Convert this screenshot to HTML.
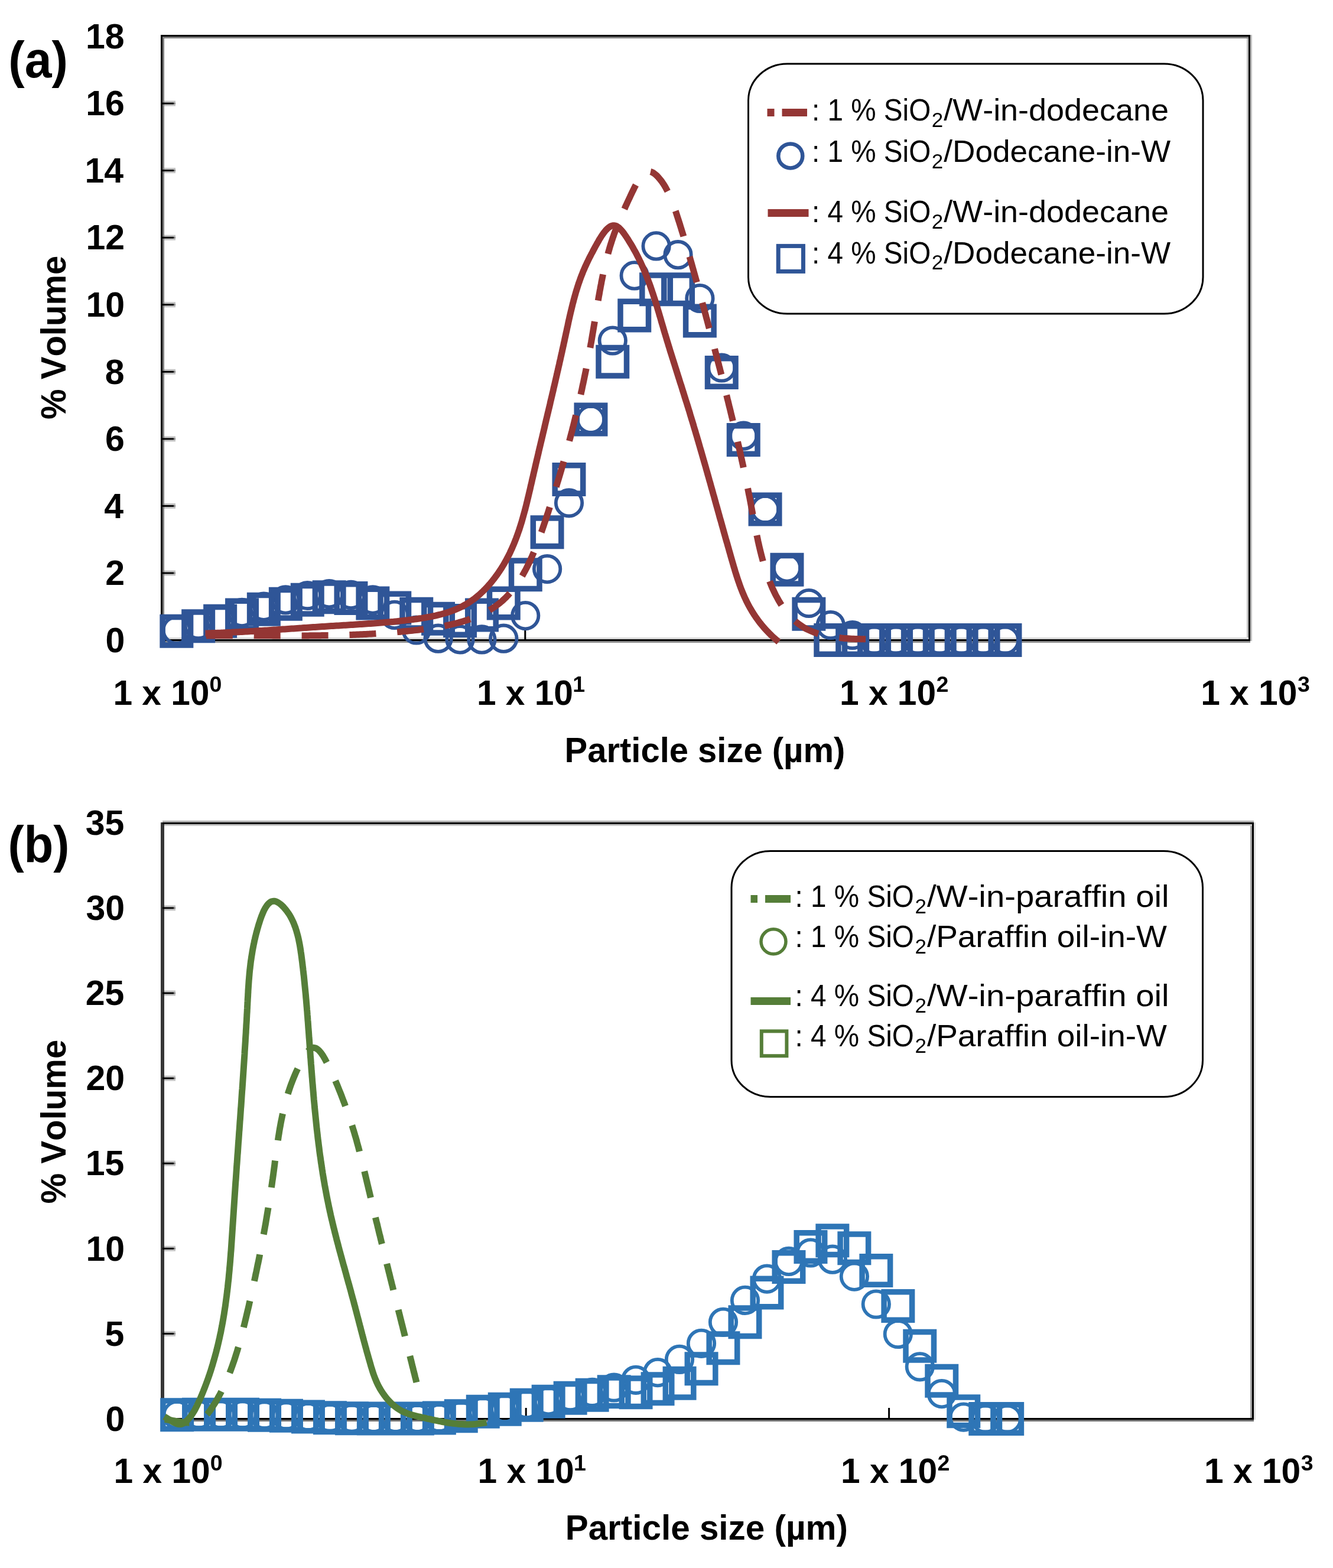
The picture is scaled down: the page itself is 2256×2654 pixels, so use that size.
<!DOCTYPE html><html><head><meta charset="utf-8"><title>Particle size distributions</title><style>html,body{margin:0;padding:0;background:#fff}svg{display:block}text{font-family:"Liberation Sans", Arial, sans-serif;fill:#000;font-kerning:none;font-variant-ligatures:none}</style></head><body>
<svg xmlns="http://www.w3.org/2000/svg" width="2256" height="2654" viewBox="0 0 2256 2654">
<rect width="2256" height="2654" fill="#fff"/>
<rect x="272" y="59" width="3" height="1026" fill="#000"/>
<rect x="275" y="62" width="3" height="1020" fill="#7f7f7f"/>
<rect x="272" y="59" width="1844" height="3" fill="#000"/>
<rect x="275" y="62" width="1838" height="3" fill="#7f7f7f"/>
<rect x="2113" y="59" width="3" height="1026" fill="#000"/>
<rect x="2110" y="65" width="3" height="1014" fill="#c0c0c0"/>
<rect x="2116" y="59" width="3" height="1026" fill="#c0c0c0"/>
<rect x="272" y="1082" width="1844" height="3" fill="#000"/>
<rect x="278" y="1079" width="1832" height="3" fill="#d8d8d8"/>
<rect x="272" y="1085" width="1844" height="3" fill="#909090"/>
<rect x="278" y="965.5" width="19" height="3" fill="#c4c4c4"/>
<rect x="278" y="971.5" width="19" height="3" fill="#c4c4c4"/>
<rect x="275" y="968.5" width="19" height="3" fill="#000"/>
<rect x="294" y="968.5" width="3" height="3" fill="#808080"/>
<rect x="278" y="851.9" width="19" height="3" fill="#c4c4c4"/>
<rect x="278" y="857.9" width="19" height="3" fill="#c4c4c4"/>
<rect x="275" y="854.9" width="19" height="3" fill="#000"/>
<rect x="294" y="854.9" width="3" height="3" fill="#808080"/>
<rect x="278" y="738.4" width="19" height="3" fill="#c4c4c4"/>
<rect x="278" y="744.4" width="19" height="3" fill="#c4c4c4"/>
<rect x="275" y="741.4" width="19" height="3" fill="#000"/>
<rect x="294" y="741.4" width="3" height="3" fill="#808080"/>
<rect x="278" y="624.8" width="19" height="3" fill="#c4c4c4"/>
<rect x="278" y="630.8" width="19" height="3" fill="#c4c4c4"/>
<rect x="275" y="627.8" width="19" height="3" fill="#000"/>
<rect x="294" y="627.8" width="3" height="3" fill="#808080"/>
<rect x="278" y="511.2" width="19" height="3" fill="#c4c4c4"/>
<rect x="278" y="517.2" width="19" height="3" fill="#c4c4c4"/>
<rect x="275" y="514.2" width="19" height="3" fill="#000"/>
<rect x="294" y="514.2" width="3" height="3" fill="#808080"/>
<rect x="278" y="397.7" width="19" height="3" fill="#c4c4c4"/>
<rect x="278" y="403.7" width="19" height="3" fill="#c4c4c4"/>
<rect x="275" y="400.7" width="19" height="3" fill="#000"/>
<rect x="294" y="400.7" width="3" height="3" fill="#808080"/>
<rect x="278" y="284.1" width="19" height="3" fill="#c4c4c4"/>
<rect x="278" y="290.1" width="19" height="3" fill="#c4c4c4"/>
<rect x="275" y="287.1" width="19" height="3" fill="#000"/>
<rect x="294" y="287.1" width="3" height="3" fill="#808080"/>
<rect x="278" y="170.6" width="19" height="3" fill="#c4c4c4"/>
<rect x="278" y="176.6" width="19" height="3" fill="#c4c4c4"/>
<rect x="275" y="173.6" width="19" height="3" fill="#000"/>
<rect x="294" y="173.6" width="3" height="3" fill="#808080"/>
<rect x="887.3" y="1065" width="3" height="17" fill="#000"/>
<rect x="1500.5" y="1065" width="3" height="17" fill="#000"/>
<g clip-path="url(#clipA)">
<circle cx="298.8" cy="1066.5" r="22.2" fill="none" stroke="#2F5597" stroke-width="5.8"/>
<circle cx="335.7" cy="1058" r="22.2" fill="none" stroke="#2F5597" stroke-width="5.8"/>
<circle cx="372.6" cy="1048.3" r="22.2" fill="none" stroke="#2F5597" stroke-width="5.8"/>
<circle cx="409.5" cy="1036.9" r="22.2" fill="none" stroke="#2F5597" stroke-width="5.8"/>
<circle cx="446.4" cy="1026.7" r="22.2" fill="none" stroke="#2F5597" stroke-width="5.8"/>
<circle cx="483.3" cy="1015.4" r="22.2" fill="none" stroke="#2F5597" stroke-width="5.8"/>
<circle cx="520.2" cy="1008" r="22.2" fill="none" stroke="#2F5597" stroke-width="5.8"/>
<circle cx="557.1" cy="1005.2" r="22.2" fill="none" stroke="#2F5597" stroke-width="5.8"/>
<circle cx="594" cy="1006.9" r="22.2" fill="none" stroke="#2F5597" stroke-width="5.8"/>
<circle cx="630.9" cy="1015.4" r="22.2" fill="none" stroke="#2F5597" stroke-width="5.8"/>
<circle cx="667.8" cy="1040.9" r="22.2" fill="none" stroke="#2F5597" stroke-width="5.8"/>
<circle cx="704.7" cy="1066.5" r="22.2" fill="none" stroke="#2F5597" stroke-width="5.8"/>
<circle cx="741.6" cy="1080.7" r="22.2" fill="none" stroke="#2F5597" stroke-width="5.8"/>
<circle cx="778.5" cy="1082.4" r="22.2" fill="none" stroke="#2F5597" stroke-width="5.8"/>
<circle cx="815.4" cy="1082.4" r="22.2" fill="none" stroke="#2F5597" stroke-width="5.8"/>
<circle cx="852.3" cy="1080.7" r="22.2" fill="none" stroke="#2F5597" stroke-width="5.8"/>
<circle cx="889.2" cy="1042.1" r="22.2" fill="none" stroke="#2F5597" stroke-width="5.8"/>
<circle cx="926.1" cy="963.1" r="22.2" fill="none" stroke="#2F5597" stroke-width="5.8"/>
<circle cx="963" cy="851.3" r="22.2" fill="none" stroke="#2F5597" stroke-width="5.8"/>
<circle cx="999.9" cy="709.9" r="22.2" fill="none" stroke="#2F5597" stroke-width="5.8"/>
<circle cx="1036.8" cy="576.5" r="22.2" fill="none" stroke="#2F5597" stroke-width="5.8"/>
<circle cx="1073.7" cy="466.4" r="22.2" fill="none" stroke="#2F5597" stroke-width="5.8"/>
<circle cx="1110.6" cy="416.4" r="22.2" fill="none" stroke="#2F5597" stroke-width="5.8"/>
<circle cx="1147.5" cy="431.2" r="22.2" fill="none" stroke="#2F5597" stroke-width="5.8"/>
<circle cx="1184.4" cy="505" r="22.2" fill="none" stroke="#2F5597" stroke-width="5.8"/>
<circle cx="1221.3" cy="622.5" r="22.2" fill="none" stroke="#2F5597" stroke-width="5.8"/>
<circle cx="1258.2" cy="737.7" r="22.2" fill="none" stroke="#2F5597" stroke-width="5.8"/>
<circle cx="1295.1" cy="862.1" r="22.2" fill="none" stroke="#2F5597" stroke-width="5.8"/>
<circle cx="1332" cy="961.4" r="22.2" fill="none" stroke="#2F5597" stroke-width="5.8"/>
<circle cx="1368.9" cy="1021" r="22.2" fill="none" stroke="#2F5597" stroke-width="5.8"/>
<circle cx="1405.8" cy="1058" r="22.2" fill="none" stroke="#2F5597" stroke-width="5.8"/>
<circle cx="1442.7" cy="1075" r="22.2" fill="none" stroke="#2F5597" stroke-width="5.8"/>
<circle cx="1479.6" cy="1083.5" r="22.2" fill="none" stroke="#2F5597" stroke-width="5.8"/>
<circle cx="1516.5" cy="1083.5" r="22.2" fill="none" stroke="#2F5597" stroke-width="5.8"/>
<circle cx="1553.4" cy="1083.5" r="22.2" fill="none" stroke="#2F5597" stroke-width="5.8"/>
<circle cx="1590.3" cy="1083.5" r="22.2" fill="none" stroke="#2F5597" stroke-width="5.8"/>
<circle cx="1627.2" cy="1083.5" r="22.2" fill="none" stroke="#2F5597" stroke-width="5.8"/>
<circle cx="1664.1" cy="1083.5" r="22.2" fill="none" stroke="#2F5597" stroke-width="5.8"/>
<circle cx="1701" cy="1083.5" r="22.2" fill="none" stroke="#2F5597" stroke-width="5.8"/>
<path d="M275.1,1044.4h47.5v47.5h-47.5zM311.9,1035.9h47.5v47.5h-47.5zM348.9,1027.4h47.5v47.5h-47.5zM385.8,1017.2h47.5v47.5h-47.5zM422.6,1007.5h47.5v47.5h-47.5zM459.6,998.4h47.5v47.5h-47.5zM496.5,991.6h47.5v47.5h-47.5zM533.4,987.1h47.5v47.5h-47.5zM570.2,988.8h47.5v47.5h-47.5zM607.1,997.3h47.5v47.5h-47.5zM644,1005.2h47.5v47.5h-47.5zM681,1015.5h47.5v47.5h-47.5zM717.8,1023.4h47.5v47.5h-47.5zM754.8,1026.8h47.5v47.5h-47.5zM791.7,1017.2h47.5v47.5h-47.5zM828.5,997.3h47.5v47.5h-47.5zM865.5,949h47.5v47.5h-47.5zM902.3,876.9h47.5v47.5h-47.5zM939.2,787.8h47.5v47.5h-47.5zM976.2,686.2h47.5v47.5h-47.5zM1013,588.5h47.5v47.5h-47.5zM1050,510.2h47.5v47.5h-47.5zM1086.8,465.9h47.5v47.5h-47.5zM1123.8,465.9h47.5v47.5h-47.5zM1160.6,519.3h47.5v47.5h-47.5zM1197.5,606.7h47.5v47.5h-47.5zM1234.5,720.8h47.5v47.5h-47.5zM1271.3,838.3h47.5v47.5h-47.5zM1308.2,940.5h47.5v47.5h-47.5zM1345.1,1015.5h47.5v47.5h-47.5zM1382,1059.8h47.5v47.5h-47.5zM1418.9,1059.8h47.5v47.5h-47.5zM1455.8,1059.8h47.5v47.5h-47.5zM1492.8,1059.8h47.5v47.5h-47.5zM1529.6,1059.8h47.5v47.5h-47.5zM1566.5,1059.8h47.5v47.5h-47.5zM1603.4,1059.8h47.5v47.5h-47.5zM1640.3,1059.8h47.5v47.5h-47.5zM1677.2,1059.8h47.5v47.5h-47.5z" fill="none" stroke="#2F5597" stroke-width="9.5" stroke-linejoin="miter"/>
<path d="M346.6,1076.1 L349.8,1076 L352.9,1076 L356,1075.9 L359.1,1075.9 L362.2,1075.9 L365.3,1075.8 L368.4,1075.8 L371.5,1075.8 L374.6,1075.8 L377.7,1075.8 L380.8,1075.7 L383.8,1075.7 L386.9,1075.7 L390,1075.7 L393,1075.7 L396.1,1075.7 L399.1,1075.7 L402.2,1075.7 L405.2,1075.7 L408.2,1075.7 L411.3,1075.7 L414.3,1075.7 L417.3,1075.7 L420.3,1075.7 L423.3,1075.7 L426.4,1075.7 L429.4,1075.7 L432.4,1075.7 L435.4,1075.7 L438.4,1075.8 L441.4,1075.8 L444.3,1075.8 L447.3,1075.8 L450.3,1075.8 L453.3,1075.8 L456.3,1075.8 L459.3,1075.8 L462.2,1075.9 L465.2,1075.9 L468.2,1075.9 L471.1,1075.9 L474.1,1075.9 L477.1,1075.9 L480,1075.9 L483,1075.9 L485.9,1075.9 L488.9,1075.9 L491.9,1075.9 L494.8,1075.9 L497.8,1075.9 L500.7,1075.9 L503.7,1075.9 L506.6,1075.9 L509.6,1075.9 L512.5,1075.9 L515.5,1075.9 L518.4,1075.9 L521.4,1075.9 L524.3,1075.8 L527.2,1075.8 L530.2,1075.8 L533.1,1075.8 L536.1,1075.8 L539,1075.7 L542,1075.7 L544.9,1075.6 L547.9,1075.6 L550.8,1075.6 L553.8,1075.5 L556.7,1075.5 L559.7,1075.4 L562.6,1075.4 L565.6,1075.3 L568.5,1075.2 L571.5,1075.2 L574.4,1075.1 L577.4,1075 L580.3,1074.9 L583.3,1074.8 L586.3,1074.7 L589.2,1074.6 L592.2,1074.5 L595.2,1074.4 L598.1,1074.3 L601.1,1074.2 L604.1,1074.1 L607.1,1074 L610,1073.8 L613,1073.7 L616,1073.5 L619,1073.4 L622,1073.2 L625,1073.1 L628,1072.9 L631,1072.7 L634,1072.6 L637,1072.4 L640,1072.2 L643,1072 L646,1071.8 L649,1071.6 L652.1,1071.4 L655.1,1071.1 L658.1,1070.9 L661.2,1070.7 L664.2,1070.4 L667.3,1070.2 L670.3,1069.9 L673.4,1069.6 L676.4,1069.4 L679.5,1069.1 L682.6,1068.8 L685.6,1068.5 L688.7,1068.2 L691.8,1067.9 L694.9,1067.6 L698,1067.2 L701.1,1066.9 L704.2,1066.5 L707.3,1066.2 L710.4,1065.8 L713.5,1065.4 L716.7,1065 L719.8,1064.6 L722.9,1064.2 L726,1063.8 L729.1,1063.3 L732.2,1062.8 L735.3,1062.4 L738.4,1061.9 L741.5,1061.3 L744.6,1060.8 L747.6,1060.2 L750.7,1059.7 L753.8,1059.1 L756.8,1058.4 L759.8,1057.8 L762.9,1057.1 L765.9,1056.4 L768.9,1055.7 L771.8,1055 L774.8,1054.2 L777.7,1053.4 L780.7,1052.6 L783.6,1051.7 L786.5,1050.8 L789.3,1049.9 L792.2,1049 L795,1048 L797.8,1047 L800.6,1045.9 L803.4,1044.9 L806.1,1043.8 L808.8,1042.6 L811.5,1041.4 L814.1,1040.2 L816.8,1039 L819.4,1037.7 L821.9,1036.3 L824.4,1035 L826.9,1033.6 L829.4,1032.1 L831.8,1030.6 L834.2,1029.1 L836.6,1027.5 L838.9,1025.9 L841.2,1024.2 L843.5,1022.5 L845.7,1020.7 L847.9,1018.9 L850,1017.1 L852.1,1015.2 L854.1,1013.2 L856.2,1011.3 L858.1,1009.2 L860.1,1007.2 L862,1005 L863.9,1002.9 L865.7,1000.7 L867.5,998.5 L869.3,996.2 L871.1,993.9 L872.8,991.6 L874.5,989.2 L876.1,986.9 L877.7,984.4 L879.3,982 L880.9,979.5 L882.5,977 L884,974.4 L885.5,971.8 L886.9,969.2 L888.4,966.6 L889.8,964 L891.2,961.3 L892.5,958.6 L893.9,955.9 L895.2,953.1 L896.5,950.4 L897.8,947.6 L899,944.8 L900.3,942 L901.5,939.2 L902.7,936.3 L903.9,933.5 L905.1,930.6 L906.2,927.7 L907.4,924.8 L908.5,921.9 L909.6,919 L910.7,916.1 L911.8,913.2 L912.9,910.2 L913.9,907.3 L915,904.3 L916,901.4 L917.1,898.4 L918.1,895.5 L919.1,892.5 L920.1,889.6 L921.1,886.6 L922.1,883.7 L923.1,880.7 L924.1,877.7 L925.1,874.8 L926,871.9 L927,868.9 L928,866 L928.9,863 L929.9,860.1 L930.8,857.2 L931.8,854.3 L932.7,851.3 L933.7,848.4 L934.6,845.5 L935.5,842.6 L936.4,839.7 L937.4,836.8 L938.3,833.8 L939.2,830.9 L940.1,828 L941,825.1 L941.9,822.2 L942.7,819.3 L943.6,816.4 L944.5,813.5 L945.4,810.7 L946.2,807.8 L947.1,804.9 L948,802 L948.8,799.1 L949.7,796.2 L950.5,793.3 L951.3,790.4 L952.2,787.6 L953,784.7 L953.8,781.8 L954.6,778.9 L955.5,776 L956.3,773.2 L957.1,770.3 L957.9,767.4 L958.7,764.5 L959.5,761.7 L960.2,758.8 L961,755.9 L961.8,753.1 L962.6,750.2 L963.3,747.3 L964.1,744.4 L964.9,741.6 L965.6,738.7 L966.4,735.8 L967.1,733 L967.9,730.1 L968.6,727.2 L969.3,724.3 L970.1,721.5 L970.8,718.6 L971.5,715.7 L972.2,712.8 L972.9,710 L973.6,707.1 L974.3,704.2 L975,701.3 L975.7,698.5 L976.4,695.6 L977.1,692.7 L977.8,689.8 L978.5,686.9 L979.1,684.1 L979.8,681.2 L980.5,678.3 L981.1,675.4 L981.8,672.5 L982.4,669.6 L983.1,666.7 L983.7,663.8 L984.4,661 L985,658.1 L985.6,655.2 L986.2,652.3 L986.9,649.4 L987.5,646.5 L988.1,643.5 L988.7,640.6 L989.3,637.7 L989.9,634.8 L990.5,631.9 L991.1,629 L991.7,626.1 L992.3,623.1 L992.9,620.2 L993.4,617.3 L994,614.4 L994.6,611.4 L995.1,608.5 L995.7,605.6 L996.3,602.6 L996.8,599.7 L997.4,596.7 L997.9,593.8 L998.4,590.8 L999,587.9 L999.5,584.9 L1000,581.9 L1000.6,579 L1001.1,576 L1001.6,573 L1002.1,570 L1002.6,567 L1003.1,564.1 L1003.6,561.1 L1004.1,558.1 L1004.6,555.1 L1005.1,552.1 L1005.6,549.1 L1006.1,546.1 L1006.6,543.1 L1007.1,540 L1007.6,537 L1008.1,534 L1008.6,531 L1009.1,528 L1009.6,525 L1010.1,522 L1010.6,519 L1011.1,516 L1011.6,513 L1012.1,509.9 L1012.6,506.9 L1013.1,503.9 L1013.6,500.9 L1014.2,497.9 L1014.7,494.9 L1015.2,491.9 L1015.8,489 L1016.3,486 L1016.9,483 L1017.5,480 L1018,477 L1018.6,474.1 L1019.2,471.1 L1019.8,468.2 L1020.4,465.2 L1021,462.3 L1021.7,459.3 L1022.3,456.4 L1023,453.5 L1023.6,450.6 L1024.3,447.7 L1025,444.8 L1025.7,441.9 L1026.4,439 L1027.2,436.1 L1027.9,433.2 L1028.7,430.4 L1029.5,427.5 L1030.3,424.7 L1031.1,421.9 L1031.9,419.1 L1032.7,416.3 L1033.6,413.5 L1034.5,410.7 L1035.4,407.9 L1036.3,405.2 L1037.2,402.4 L1038.2,399.7 L1039.1,396.9 L1040.1,394.2 L1041.1,391.5 L1042.2,388.7 L1043.2,386 L1044.3,383.3 L1045.4,380.5 L1046.5,377.8 L1047.6,375 L1048.8,372.2 L1049.9,369.4 L1051.1,366.6 L1052.3,363.8 L1053.6,361 L1054.8,358.1 L1056.1,355.3 L1057.4,352.4 L1058.7,349.4 L1060.1,346.5 L1061.4,343.5 L1062.8,340.5 L1064.2,337.5 L1065.7,334.4 L1067.1,331.3 L1068.6,328.1 L1070.1,324.9 L1071.7,321.8 L1073.2,318.6 L1074.8,315.5 L1076.4,312.5 L1078,309.6 L1079.7,306.7 L1081.4,304.1 L1083.1,301.6 L1084.8,299.2 L1086.5,297.1 L1088.3,295.3 L1090.1,293.7 L1092,292.3 L1093.8,291.3 L1095.7,290.6 L1097.6,290.3 L1099.6,290.3 L1101.5,290.7 L1103.5,291.5 L1105.5,292.5 L1107.4,293.9 L1109.4,295.4 L1111.3,297.1 L1113.2,299 L1115,301.1 L1116.8,303.2 L1118.6,305.4 L1120.2,307.6 L1121.9,310 L1123.5,312.4 L1125,314.9 L1126.5,317.5 L1127.9,320.1 L1129.3,322.8 L1130.7,325.5 L1132,328.3 L1133.3,331.2 L1134.6,334.1 L1135.8,337 L1137,340 L1138.2,342.9 L1139.3,346 L1140.5,349 L1141.6,352.1 L1142.6,355.2 L1143.7,358.3 L1144.7,361.4 L1145.7,364.5 L1146.7,367.6 L1147.7,370.7 L1148.7,373.8 L1149.7,376.9 L1150.7,380 L1151.6,383 L1152.6,386.1 L1153.5,389.1 L1154.4,392.2 L1155.4,395.2 L1156.3,398.2 L1157.2,401.2 L1158.1,404.2 L1159,407.2 L1159.9,410.2 L1160.8,413.1 L1161.7,416.1 L1162.5,419.1 L1163.4,422 L1164.3,424.9 L1165.1,427.9 L1166,430.8 L1166.8,433.7 L1167.7,436.6 L1168.5,439.5 L1169.3,442.4 L1170.2,445.3 L1171,448.2 L1171.8,451.1 L1172.6,453.9 L1173.4,456.8 L1174.2,459.7 L1175,462.5 L1175.8,465.4 L1176.6,468.2 L1177.4,471.1 L1178.2,473.9 L1179,476.8 L1179.8,479.6 L1180.6,482.5 L1181.4,485.3 L1182.1,488.1 L1182.9,491 L1183.7,493.8 L1184.5,496.6 L1185.2,499.5 L1186,502.3 L1186.8,505.1 L1187.5,508 L1188.3,510.8 L1189,513.6 L1189.8,516.5 L1190.6,519.3 L1191.3,522.1 L1192.1,525 L1192.9,527.8 L1193.6,530.7 L1194.4,533.5 L1195.1,536.4 L1195.9,539.2 L1196.7,542.1 L1197.4,544.9 L1198.2,547.8 L1198.9,550.6 L1199.7,553.5 L1200.5,556.4 L1201.2,559.2 L1202,562.1 L1202.8,565 L1203.5,567.9 L1204.3,570.8 L1205.1,573.6 L1205.8,576.5 L1206.6,579.4 L1207.3,582.3 L1208.1,585.2 L1208.9,588.1 L1209.6,591 L1210.4,593.9 L1211.1,596.8 L1211.9,599.7 L1212.7,602.6 L1213.4,605.5 L1214.2,608.4 L1214.9,611.4 L1215.7,614.3 L1216.5,617.2 L1217.2,620.1 L1218,623 L1218.7,625.9 L1219.5,628.9 L1220.2,631.8 L1221,634.7 L1221.7,637.7 L1222.5,640.6 L1223.2,643.5 L1224,646.4 L1224.7,649.4 L1225.4,652.3 L1226.2,655.2 L1226.9,658.2 L1227.7,661.1 L1228.4,664.1 L1229.1,667 L1229.9,669.9 L1230.6,672.9 L1231.3,675.8 L1232.1,678.8 L1232.8,681.7 L1233.5,684.7 L1234.2,687.6 L1235,690.6 L1235.7,693.5 L1236.4,696.4 L1237.1,699.4 L1237.8,702.3 L1238.5,705.3 L1239.3,708.2 L1240,711.2 L1240.7,714.1 L1241.4,717.1 L1242.1,720 L1242.8,723 L1243.5,725.9 L1244.2,728.9 L1244.9,731.8 L1245.5,734.8 L1246.2,737.7 L1246.9,740.7 L1247.6,743.6 L1248.3,746.6 L1248.9,749.5 L1249.6,752.5 L1250.3,755.4 L1251,758.4 L1251.6,761.3 L1252.3,764.3 L1252.9,767.2 L1253.6,770.2 L1254.2,773.1 L1254.9,776 L1255.5,779 L1256.2,781.9 L1256.8,784.9 L1257.5,787.8 L1258.1,790.8 L1258.7,793.7 L1259.3,796.6 L1260,799.6 L1260.6,802.5 L1261.2,805.4 L1261.8,808.4 L1262.4,811.3 L1263,814.2 L1263.6,817.1 L1264.2,820.1 L1264.8,823 L1265.4,825.9 L1266,828.8 L1266.6,831.8 L1267.1,834.7 L1267.7,837.6 L1268.3,840.5 L1268.9,843.4 L1269.4,846.3 L1270,849.2 L1270.5,852.1 L1271.1,855.1 L1271.6,858 L1272.2,860.9 L1272.7,863.8 L1273.2,866.7 L1273.8,869.6 L1274.3,872.5 L1274.9,875.4 L1275.4,878.3 L1276,881.2 L1276.5,884.1 L1277.1,887 L1277.6,889.9 L1278.2,892.8 L1278.8,895.7 L1279.3,898.6 L1279.9,901.5 L1280.5,904.5 L1281.1,907.4 L1281.8,910.3 L1282.4,913.2 L1283,916.2 L1283.7,919.1 L1284.3,922.1 L1285,925 L1285.7,928 L1286.4,930.9 L1287.1,933.9 L1287.9,936.9 L1288.6,939.9 L1289.4,942.8 L1290.2,945.8 L1291,948.8 L1291.8,951.8 L1292.7,954.7 L1293.6,957.7 L1294.5,960.7 L1295.4,963.6 L1296.3,966.6 L1297.3,969.5 L1298.3,972.4 L1299.3,975.3 L1300.4,978.3 L1301.4,981.1 L1302.5,984 L1303.7,986.9 L1304.8,989.7 L1306,992.5 L1307.2,995.4 L1308.5,998.1 L1309.8,1000.9 L1311.1,1003.6 L1312.4,1006.4 L1313.8,1009 L1315.3,1011.7 L1316.7,1014.3 L1318.2,1016.9 L1319.7,1019.5 L1321.3,1022.1 L1322.9,1024.6 L1324.6,1027 L1326.3,1029.4 L1328,1031.8 L1329.8,1034.2 L1331.6,1036.5 L1333.4,1038.7 L1335.3,1040.9 L1337.3,1043.1 L1339.3,1045.1 L1341.3,1047.2 L1343.4,1049.2 L1345.5,1051.1 L1347.7,1053 L1350,1054.8 L1352.2,1056.5 L1354.6,1058.2 L1357,1059.8 L1359.4,1061.4 L1361.9,1062.9 L1364.4,1064.3 L1367,1065.6 L1369.7,1066.8 L1372.3,1068 L1375.1,1069.2 L1377.9,1070.2 L1380.7,1071.2 L1383.5,1072.2 L1386.4,1073.1 L1389.3,1073.9 L1392.3,1074.7 L1395.3,1075.4 L1398.3,1076 L1401.3,1076.7 L1404.4,1077.2 L1407.4,1077.8 L1410.5,1078.2 L1413.6,1078.7 L1416.7,1079.1 L1419.8,1079.5 L1423,1079.8 L1426.1,1080.1 L1429.2,1080.4 L1432.3,1080.6 L1435.4,1080.8 L1438.5,1081 L1441.6,1081.2 L1444.7,1081.3 L1447.8,1081.4 L1450.8,1081.5 L1453.9,1081.6 L1456.9,1081.7 L1459.9,1081.8 L1462.8,1081.8 L1465.8,1081.9 L1468.7,1081.9 L1471.5,1082 L1474.3,1082 L1477.1,1082.1 L1479.9,1082.1" fill="none" stroke="#943634" stroke-width="11" stroke-dasharray="45 35.9" stroke-dashoffset="-2.2"/>
<path d="M347.4,1071.9 L350.3,1071.9 L353.2,1071.8 L356.2,1071.7 L359.1,1071.6 L362,1071.5 L365,1071.4 L367.9,1071.3 L370.9,1071.2 L373.8,1071.1 L376.8,1070.9 L379.7,1070.8 L382.7,1070.7 L385.7,1070.5 L388.6,1070.4 L391.6,1070.3 L394.6,1070.1 L397.6,1070 L400.5,1069.8 L403.5,1069.7 L406.5,1069.5 L409.5,1069.4 L412.5,1069.2 L415.5,1069 L418.4,1068.9 L421.4,1068.7 L424.4,1068.5 L427.4,1068.4 L430.4,1068.2 L433.4,1068 L436.4,1067.8 L439.4,1067.6 L442.4,1067.5 L445.5,1067.3 L448.5,1067.1 L451.5,1066.9 L454.5,1066.7 L457.5,1066.5 L460.5,1066.3 L463.5,1066.1 L466.6,1065.9 L469.6,1065.7 L472.6,1065.5 L475.6,1065.3 L478.6,1065.1 L481.7,1064.9 L484.7,1064.7 L487.7,1064.5 L490.8,1064.3 L493.8,1064.1 L496.8,1063.9 L499.8,1063.7 L502.9,1063.5 L505.9,1063.3 L508.9,1063.1 L512,1062.8 L515,1062.6 L518,1062.4 L521.1,1062.2 L524.1,1062 L527.1,1061.8 L530.2,1061.6 L533.2,1061.4 L536.2,1061.2 L539.3,1061 L542.3,1060.8 L545.4,1060.6 L548.4,1060.4 L551.4,1060.2 L554.5,1060 L557.5,1059.8 L560.5,1059.6 L563.6,1059.5 L566.6,1059.3 L569.6,1059.1 L572.7,1058.9 L575.7,1058.7 L578.7,1058.5 L581.7,1058.3 L584.8,1058.2 L587.8,1058 L590.8,1057.8 L593.9,1057.6 L596.9,1057.4 L599.9,1057.2 L602.9,1057 L606,1056.8 L609,1056.6 L612,1056.4 L615,1056.2 L618,1056 L621.1,1055.8 L624.1,1055.6 L627.1,1055.4 L630.1,1055.2 L633.1,1055 L636.1,1054.7 L639.1,1054.5 L642.1,1054.3 L645.1,1054 L648.1,1053.8 L651.1,1053.5 L654.1,1053.3 L657.1,1053 L660.1,1052.7 L663.1,1052.4 L666.1,1052.2 L669.1,1051.9 L672.1,1051.6 L675.1,1051.3 L678.1,1050.9 L681,1050.6 L684,1050.3 L687,1049.9 L690,1049.6 L692.9,1049.2 L695.9,1048.9 L698.8,1048.5 L701.8,1048.1 L704.8,1047.7 L707.7,1047.3 L710.7,1046.8 L713.6,1046.4 L716.6,1045.9 L719.5,1045.4 L722.4,1044.9 L725.3,1044.4 L728.2,1043.9 L731.1,1043.3 L734,1042.7 L736.9,1042.1 L739.8,1041.4 L742.6,1040.7 L745.5,1040 L748.3,1039.3 L751.1,1038.5 L753.9,1037.6 L756.7,1036.8 L759.5,1035.9 L762.2,1034.9 L765,1033.9 L767.7,1032.9 L770.4,1031.8 L773.1,1030.7 L775.8,1029.5 L778.4,1028.3 L781,1027 L783.6,1025.6 L786.2,1024.2 L788.8,1022.8 L791.3,1021.3 L793.8,1019.7 L796.3,1018 L798.8,1016.3 L801.2,1014.6 L803.6,1012.8 L806,1010.9 L808.3,1008.9 L810.7,1006.9 L813,1004.9 L815.2,1002.8 L817.5,1000.7 L819.7,998.5 L821.8,996.3 L824,994 L826.1,991.7 L828.1,989.4 L830.2,987 L832.2,984.6 L834.1,982.2 L836.1,979.7 L837.9,977.2 L839.8,974.7 L841.6,972.2 L843.4,969.7 L845.1,967.2 L846.8,964.6 L848.5,962 L850.1,959.4 L851.7,956.8 L853.2,954.2 L854.7,951.6 L856.2,949 L857.6,946.3 L859,943.7 L860.4,941 L861.8,938.3 L863.1,935.6 L864.3,932.9 L865.6,930.2 L866.8,927.5 L868,924.7 L869.2,922 L870.3,919.2 L871.4,916.4 L872.5,913.7 L873.6,910.9 L874.6,908.1 L875.6,905.3 L876.6,902.5 L877.6,899.7 L878.6,896.9 L879.5,894 L880.4,891.2 L881.3,888.3 L882.2,885.5 L883.1,882.6 L883.9,879.8 L884.7,876.9 L885.5,874 L886.3,871.1 L887.1,868.3 L887.9,865.4 L888.7,862.5 L889.4,859.6 L890.2,856.7 L890.9,853.8 L891.6,850.9 L892.3,848 L893,845 L893.7,842.1 L894.4,839.2 L895.1,836.3 L895.8,833.3 L896.5,830.4 L897.2,827.5 L897.8,824.6 L898.5,821.6 L899.2,818.7 L899.9,815.8 L900.5,812.8 L901.2,809.9 L901.9,807 L902.6,804 L903.2,801.1 L903.9,798.2 L904.6,795.2 L905.3,792.3 L906,789.4 L906.6,786.4 L907.3,783.5 L908,780.6 L908.7,777.6 L909.4,774.7 L910.1,771.8 L910.8,768.8 L911.5,765.9 L912.1,763 L912.8,760 L913.5,757.1 L914.2,754.2 L914.9,751.2 L915.6,748.3 L916.3,745.4 L917,742.4 L917.7,739.5 L918.4,736.6 L919.1,733.6 L919.8,730.7 L920.5,727.8 L921.2,724.8 L921.9,721.9 L922.5,719 L923.2,716 L923.9,713.1 L924.6,710.1 L925.3,707.2 L926,704.3 L926.7,701.3 L927.4,698.4 L928.1,695.5 L928.8,692.5 L929.5,689.6 L930.2,686.7 L930.9,683.7 L931.5,680.8 L932.2,677.9 L932.9,674.9 L933.6,672 L934.3,669.1 L935,666.1 L935.7,663.2 L936.4,660.3 L937,657.3 L937.7,654.4 L938.4,651.5 L939.1,648.5 L939.8,645.6 L940.4,642.7 L941.1,639.7 L941.8,636.8 L942.5,633.8 L943.1,630.9 L943.8,628 L944.5,625 L945.1,622.1 L945.8,619.2 L946.5,616.2 L947.1,613.3 L947.8,610.4 L948.5,607.4 L949.1,604.5 L949.8,601.6 L950.4,598.6 L951.1,595.7 L951.7,592.8 L952.4,589.8 L953,586.9 L953.7,584 L954.3,581 L955,578.1 L955.6,575.2 L956.2,572.2 L956.9,569.3 L957.5,566.4 L958.1,563.4 L958.8,560.5 L959.4,557.6 L960,554.6 L960.7,551.7 L961.3,548.8 L961.9,545.8 L962.6,542.9 L963.2,540 L963.9,537.1 L964.5,534.2 L965.2,531.2 L965.9,528.3 L966.6,525.4 L967.3,522.5 L968,519.6 L968.7,516.7 L969.4,513.8 L970.2,511 L970.9,508.1 L971.7,505.2 L972.5,502.3 L973.3,499.5 L974.1,496.6 L974.9,493.8 L975.8,490.9 L976.7,488.1 L977.6,485.2 L978.5,482.4 L979.4,479.6 L980.4,476.8 L981.4,474 L982.4,471.2 L983.4,468.4 L984.5,465.7 L985.6,462.9 L986.7,460.1 L987.8,457.4 L989,454.7 L990.2,451.9 L991.5,449.2 L992.7,446.5 L994,443.7 L995.4,440.9 L996.7,438.2 L998.1,435.4 L999.6,432.6 L1001,429.7 L1002.6,426.8 L1004.1,423.9 L1005.7,420.9 L1007.3,417.9 L1009,414.9 L1010.7,411.8 L1012.5,408.7 L1014.2,405.6 L1016.1,402.6 L1017.9,399.7 L1019.8,396.9 L1021.7,394.3 L1023.6,391.8 L1025.5,389.5 L1027.5,387.5 L1029.5,385.7 L1031.4,384.2 L1033.4,383 L1035.4,382.2 L1037.4,381.7 L1039.5,381.7 L1041.5,382 L1043.5,382.8 L1045.5,384 L1047.5,385.5 L1049.4,387.3 L1051.4,389.4 L1053.4,391.7 L1055.3,394.2 L1057.2,396.8 L1059,399.5 L1060.9,402.2 L1062.7,405 L1064.4,407.8 L1066.1,410.6 L1067.8,413.3 L1069.5,416.1 L1071.1,418.9 L1072.6,421.7 L1074.2,424.4 L1075.7,427.2 L1077.2,430 L1078.6,432.8 L1080,435.5 L1081.4,438.3 L1082.7,441.1 L1084.1,443.9 L1085.4,446.7 L1086.6,449.4 L1087.9,452.2 L1089.1,455 L1090.3,457.8 L1091.5,460.6 L1092.6,463.3 L1093.7,466.1 L1094.8,468.9 L1095.9,471.7 L1097,474.5 L1098,477.3 L1099.1,480 L1100.1,482.8 L1101.1,485.6 L1102,488.4 L1103,491.2 L1103.9,494 L1104.9,496.8 L1105.8,499.6 L1106.7,502.4 L1107.6,505.2 L1108.5,508 L1109.4,510.7 L1110.2,513.5 L1111.1,516.3 L1112,519.1 L1112.8,521.9 L1113.6,524.7 L1114.5,527.5 L1115.3,530.3 L1116.1,533.2 L1117,536 L1117.8,538.8 L1118.6,541.6 L1119.4,544.4 L1120.2,547.2 L1121.1,550 L1121.9,552.8 L1122.7,555.6 L1123.5,558.4 L1124.4,561.3 L1125.2,564.1 L1126.1,566.9 L1126.9,569.7 L1127.8,572.5 L1128.6,575.4 L1129.5,578.2 L1130.4,581 L1131.2,583.9 L1132.1,586.7 L1133,589.5 L1133.8,592.4 L1134.7,595.2 L1135.6,598 L1136.5,600.9 L1137.4,603.7 L1138.3,606.6 L1139.2,609.4 L1140.1,612.2 L1141,615.1 L1141.9,617.9 L1142.8,620.8 L1143.7,623.7 L1144.6,626.5 L1145.5,629.4 L1146.4,632.2 L1147.3,635.1 L1148.2,638 L1149.1,640.8 L1150,643.7 L1150.9,646.6 L1151.8,649.4 L1152.8,652.3 L1153.7,655.2 L1154.6,658.1 L1155.5,661 L1156.4,663.8 L1157.3,666.7 L1158.2,669.6 L1159.1,672.5 L1160,675.4 L1160.9,678.3 L1161.9,681.2 L1162.8,684.1 L1163.7,687 L1164.6,689.9 L1165.5,692.8 L1166.4,695.7 L1167.3,698.6 L1168.1,701.5 L1169,704.5 L1169.9,707.4 L1170.8,710.3 L1171.7,713.2 L1172.6,716.2 L1173.5,719.1 L1174.3,722 L1175.2,725 L1176.1,727.9 L1177,730.8 L1177.8,733.8 L1178.7,736.7 L1179.6,739.6 L1180.4,742.6 L1181.3,745.5 L1182.2,748.5 L1183,751.4 L1183.9,754.4 L1184.7,757.3 L1185.6,760.3 L1186.4,763.2 L1187.3,766.1 L1188.1,769.1 L1189,772 L1189.8,775 L1190.7,777.9 L1191.5,780.9 L1192.4,783.8 L1193.2,786.8 L1194.1,789.7 L1194.9,792.7 L1195.7,795.6 L1196.6,798.6 L1197.4,801.5 L1198.2,804.5 L1199.1,807.4 L1199.9,810.4 L1200.7,813.3 L1201.6,816.2 L1202.4,819.2 L1203.2,822.1 L1204,825.1 L1204.9,828 L1205.7,830.9 L1206.5,833.9 L1207.3,836.8 L1208.2,839.7 L1209,842.7 L1209.8,845.6 L1210.6,848.5 L1211.4,851.4 L1212.2,854.3 L1213.1,857.3 L1213.9,860.2 L1214.7,863.1 L1215.5,866 L1216.3,868.9 L1217.1,871.8 L1217.9,874.7 L1218.7,877.6 L1219.6,880.5 L1220.4,883.4 L1221.2,886.3 L1222,889.2 L1222.8,892 L1223.6,894.9 L1224.4,897.8 L1225.2,900.7 L1226,903.5 L1226.8,906.4 L1227.6,909.2 L1228.4,912.1 L1229.2,914.9 L1230.1,917.8 L1230.9,920.6 L1231.7,923.5 L1232.5,926.3 L1233.3,929.1 L1234.1,931.9 L1234.9,934.8 L1235.7,937.6 L1236.5,940.4 L1237.3,943.2 L1238.1,946 L1238.9,948.8 L1239.7,951.5 L1240.5,954.3 L1241.3,957.1 L1242.1,959.9 L1243,962.6 L1243.8,965.4 L1244.6,968.1 L1245.5,970.9 L1246.3,973.6 L1247.2,976.3 L1248.1,979.1 L1249,981.8 L1249.9,984.5 L1250.9,987.2 L1251.8,989.9 L1252.8,992.6 L1253.8,995.3 L1254.8,997.9 L1255.9,1000.6 L1257,1003.3 L1258.1,1005.9 L1259.2,1008.6 L1260.4,1011.2 L1261.6,1013.8 L1262.9,1016.5 L1264.1,1019.1 L1265.5,1021.7 L1266.8,1024.3 L1268.2,1026.9 L1269.7,1029.5 L1271.2,1032.1 L1272.7,1034.6 L1274.3,1037.2 L1275.9,1039.7 L1277.6,1042.3 L1279.3,1044.8 L1281.1,1047.3 L1282.9,1049.8 L1284.8,1052.3 L1286.7,1054.8 L1288.7,1057.3 L1290.8,1059.8 L1292.9,1062.3 L1295.1,1064.7 L1297.4,1067.2 L1299.7,1069.6 L1302.1,1072.1 L1304.5,1074.5 L1307,1076.9 L1309.6,1079.3 L1312.3,1081.7 L1315,1084.1 L1317.8,1086.4" fill="none" stroke="#943634" stroke-width="11"/>
</g>
<rect x="272" y="1392" width="6" height="1011" fill="#363636"/>
<rect x="275" y="1389" width="1847" height="3" fill="#b0b0b0"/>
<rect x="275" y="1392" width="1847" height="3" fill="#000"/>
<rect x="278" y="1395" width="1841" height="3" fill="#c8c8c8"/>
<rect x="2119" y="1392" width="3" height="1011" fill="#000"/>
<rect x="2116" y="1398" width="3" height="1002" fill="#a0a0a0"/>
<rect x="2122" y="1392" width="3" height="1011" fill="#e0e0e0"/>
<rect x="278" y="2400" width="1844" height="3" fill="#000"/>
<rect x="278" y="2403" width="1844" height="3" fill="#707070"/>
<rect x="278" y="2252.9" width="19" height="3" fill="#c4c4c4"/>
<rect x="278" y="2258.9" width="19" height="3" fill="#c4c4c4"/>
<rect x="275" y="2255.9" width="19" height="3" fill="#000"/>
<rect x="294" y="2255.9" width="3" height="3" fill="#808080"/>
<rect x="278" y="2108.8" width="19" height="3" fill="#c4c4c4"/>
<rect x="278" y="2114.8" width="19" height="3" fill="#c4c4c4"/>
<rect x="275" y="2111.8" width="19" height="3" fill="#000"/>
<rect x="294" y="2111.8" width="3" height="3" fill="#808080"/>
<rect x="278" y="1964.7" width="19" height="3" fill="#c4c4c4"/>
<rect x="278" y="1970.7" width="19" height="3" fill="#c4c4c4"/>
<rect x="275" y="1967.7" width="19" height="3" fill="#000"/>
<rect x="294" y="1967.7" width="3" height="3" fill="#808080"/>
<rect x="278" y="1820.6" width="19" height="3" fill="#c4c4c4"/>
<rect x="278" y="1826.6" width="19" height="3" fill="#c4c4c4"/>
<rect x="275" y="1823.6" width="19" height="3" fill="#000"/>
<rect x="294" y="1823.6" width="3" height="3" fill="#808080"/>
<rect x="278" y="1676.5" width="19" height="3" fill="#c4c4c4"/>
<rect x="278" y="1682.5" width="19" height="3" fill="#c4c4c4"/>
<rect x="275" y="1679.5" width="19" height="3" fill="#000"/>
<rect x="294" y="1679.5" width="3" height="3" fill="#808080"/>
<rect x="278" y="1532.4" width="19" height="3" fill="#c4c4c4"/>
<rect x="278" y="1538.4" width="19" height="3" fill="#c4c4c4"/>
<rect x="275" y="1535.4" width="19" height="3" fill="#000"/>
<rect x="294" y="1535.4" width="3" height="3" fill="#808080"/>
<rect x="888.7" y="2383" width="3" height="17" fill="#000"/>
<rect x="1503.1" y="2383" width="3" height="17" fill="#000"/>
<circle cx="299.6" cy="2394.9" r="22.2" fill="none" stroke="#2E75B6" stroke-width="5.8"/>
<circle cx="336.6" cy="2394.3" r="22.2" fill="none" stroke="#2E75B6" stroke-width="5.8"/>
<circle cx="373.6" cy="2394.3" r="22.2" fill="none" stroke="#2E75B6" stroke-width="5.8"/>
<circle cx="410.5" cy="2394.3" r="22.2" fill="none" stroke="#2E75B6" stroke-width="5.8"/>
<circle cx="447.5" cy="2395.2" r="22.2" fill="none" stroke="#2E75B6" stroke-width="5.8"/>
<circle cx="484.5" cy="2396.3" r="22.2" fill="none" stroke="#2E75B6" stroke-width="5.8"/>
<circle cx="521.5" cy="2398" r="22.2" fill="none" stroke="#2E75B6" stroke-width="5.8"/>
<circle cx="558.4" cy="2399.8" r="22.2" fill="none" stroke="#2E75B6" stroke-width="5.8"/>
<circle cx="595.4" cy="2400.6" r="22.2" fill="none" stroke="#2E75B6" stroke-width="5.8"/>
<circle cx="632.4" cy="2400.9" r="22.2" fill="none" stroke="#2E75B6" stroke-width="5.8"/>
<circle cx="669.4" cy="2400.9" r="22.2" fill="none" stroke="#2E75B6" stroke-width="5.8"/>
<circle cx="706.3" cy="2400.9" r="22.2" fill="none" stroke="#2E75B6" stroke-width="5.8"/>
<circle cx="743.3" cy="2400.1" r="22.2" fill="none" stroke="#2E75B6" stroke-width="5.8"/>
<circle cx="780.3" cy="2395.7" r="22.2" fill="none" stroke="#2E75B6" stroke-width="5.8"/>
<circle cx="817.3" cy="2388.5" r="22.2" fill="none" stroke="#2E75B6" stroke-width="5.8"/>
<circle cx="854.2" cy="2384.2" r="22.2" fill="none" stroke="#2E75B6" stroke-width="5.8"/>
<circle cx="891.2" cy="2377" r="22.2" fill="none" stroke="#2E75B6" stroke-width="5.8"/>
<circle cx="928.2" cy="2371.2" r="22.2" fill="none" stroke="#2E75B6" stroke-width="5.8"/>
<circle cx="965.2" cy="2364" r="22.2" fill="none" stroke="#2E75B6" stroke-width="5.8"/>
<circle cx="1002.1" cy="2356.8" r="22.2" fill="none" stroke="#2E75B6" stroke-width="5.8"/>
<circle cx="1039.1" cy="2348.5" r="22.2" fill="none" stroke="#2E75B6" stroke-width="5.8"/>
<circle cx="1076.1" cy="2335.8" r="22.2" fill="none" stroke="#2E75B6" stroke-width="5.8"/>
<circle cx="1113.1" cy="2323.1" r="22.2" fill="none" stroke="#2E75B6" stroke-width="5.8"/>
<circle cx="1150" cy="2300.9" r="22.2" fill="none" stroke="#2E75B6" stroke-width="5.8"/>
<circle cx="1187" cy="2273.8" r="22.2" fill="none" stroke="#2E75B6" stroke-width="5.8"/>
<circle cx="1224" cy="2237.8" r="22.2" fill="none" stroke="#2E75B6" stroke-width="5.8"/>
<circle cx="1261" cy="2200.9" r="22.2" fill="none" stroke="#2E75B6" stroke-width="5.8"/>
<circle cx="1298" cy="2164.6" r="22.2" fill="none" stroke="#2E75B6" stroke-width="5.8"/>
<circle cx="1334.9" cy="2134.9" r="22.2" fill="none" stroke="#2E75B6" stroke-width="5.8"/>
<circle cx="1371.9" cy="2120.5" r="22.2" fill="none" stroke="#2E75B6" stroke-width="5.8"/>
<circle cx="1408.9" cy="2131.7" r="22.2" fill="none" stroke="#2E75B6" stroke-width="5.8"/>
<circle cx="1445.9" cy="2160.6" r="22.2" fill="none" stroke="#2E75B6" stroke-width="5.8"/>
<circle cx="1482.8" cy="2207.5" r="22.2" fill="none" stroke="#2E75B6" stroke-width="5.8"/>
<circle cx="1519.8" cy="2258" r="22.2" fill="none" stroke="#2E75B6" stroke-width="5.8"/>
<circle cx="1556.8" cy="2313.3" r="22.2" fill="none" stroke="#2E75B6" stroke-width="5.8"/>
<circle cx="1593.8" cy="2359.1" r="22.2" fill="none" stroke="#2E75B6" stroke-width="5.8"/>
<circle cx="1630.7" cy="2398.6" r="22.2" fill="none" stroke="#2E75B6" stroke-width="5.8"/>
<circle cx="1667.7" cy="2401.5" r="22.2" fill="none" stroke="#2E75B6" stroke-width="5.8"/>
<circle cx="1704.7" cy="2401.5" r="22.2" fill="none" stroke="#2E75B6" stroke-width="5.8"/>
<path d="M275.9,2371.1h47.5v47.5h-47.5zM312.8,2370.5h47.5v47.5h-47.5zM349.8,2370.5h47.5v47.5h-47.5zM386.8,2370.5h47.5v47.5h-47.5zM423.8,2371.4h47.5v47.5h-47.5zM460.7,2372.6h47.5v47.5h-47.5zM497.7,2374.3h47.5v47.5h-47.5zM534.7,2376h47.5v47.5h-47.5zM571.7,2376.9h47.5v47.5h-47.5zM608.6,2377.2h47.5v47.5h-47.5zM645.6,2377.2h47.5v47.5h-47.5zM682.6,2377.2h47.5v47.5h-47.5zM719.6,2376.3h47.5v47.5h-47.5zM756.5,2372.9h47.5v47.5h-47.5zM793.5,2365.6h47.5v47.5h-47.5zM830.5,2361.6h47.5v47.5h-47.5zM867.5,2354.4h47.5v47.5h-47.5zM904.4,2348.6h47.5v47.5h-47.5zM941.4,2342.6h47.5v47.5h-47.5zM978.4,2337.4h47.5v47.5h-47.5zM1015.4,2331.9h47.5v47.5h-47.5zM1052.3,2333.1h47.5v47.5h-47.5zM1089.3,2327h47.5v47.5h-47.5zM1126.3,2317.5h47.5v47.5h-47.5zM1163.3,2293h47.5v47.5h-47.5zM1200.2,2258.1h47.5v47.5h-47.5zM1237.2,2214.1h47.5v47.5h-47.5zM1274.2,2164.2h47.5v47.5h-47.5zM1311.2,2120.7h47.5v47.5h-47.5zM1348.2,2086.7h47.5v47.5h-47.5zM1385.1,2076h47.5v47.5h-47.5zM1422.1,2089h47.5v47.5h-47.5zM1459.1,2126.7h47.5v47.5h-47.5zM1496.1,2186.7h47.5v47.5h-47.5zM1533,2254.4h47.5v47.5h-47.5zM1570,2313.5h47.5v47.5h-47.5zM1607,2365.1h47.5v47.5h-47.5zM1644,2377.8h47.5v47.5h-47.5zM1680.9,2377.8h47.5v47.5h-47.5z" fill="none" stroke="#2E75B6" stroke-width="9.5" stroke-linejoin="miter"/>
<path d="M278.5,2402.6 L281.5,2402.8 L284.6,2403.2 L287.8,2403.7 L291,2404.2 L294.2,2404.8 L297.5,2405.3 L300.7,2405.9 L303.9,2406.5 L307.2,2407 L310.4,2407.4 L313.5,2407.8 L316.7,2408 L319.7,2408.2 L322.7,2408.1 L325.6,2407.9 L328.5,2407.5 L331.2,2406.9 L333.8,2406.1 L336.3,2405.1 L338.7,2403.8 L341,2402.4 L343.3,2400.8 L345.4,2399 L347.5,2397.1 L349.4,2395 L351.4,2392.9 L353.2,2390.6 L355,2388.2 L356.8,2385.8 L358.4,2383.3 L360.1,2380.8 L361.7,2378.2 L363.3,2375.7 L364.9,2373.1 L366.4,2370.5 L367.9,2367.9 L369.3,2365.2 L370.8,2362.6 L372.2,2360 L373.6,2357.3 L374.9,2354.7 L376.3,2352 L377.6,2349.3 L378.9,2346.6 L380.1,2343.9 L381.4,2341.2 L382.6,2338.5 L383.8,2335.7 L384.9,2333 L386.1,2330.2 L387.2,2327.5 L388.3,2324.7 L389.4,2321.9 L390.5,2319.2 L391.5,2316.4 L392.5,2313.6 L393.5,2310.8 L394.5,2307.9 L395.5,2305.1 L396.5,2302.3 L397.4,2299.5 L398.3,2296.6 L399.2,2293.8 L400.1,2290.9 L401,2288.1 L401.9,2285.2 L402.7,2282.3 L403.6,2279.5 L404.4,2276.6 L405.2,2273.7 L406,2270.8 L406.8,2267.9 L407.6,2265 L408.4,2262.1 L409.1,2259.2 L409.9,2256.3 L410.6,2253.4 L411.4,2250.4 L412.1,2247.5 L412.8,2244.6 L413.6,2241.7 L414.3,2238.7 L415,2235.8 L415.7,2232.9 L416.4,2229.9 L417.1,2227 L417.8,2224 L418.5,2221.1 L419.2,2218.1 L419.9,2215.2 L420.6,2212.2 L421.3,2209.3 L421.9,2206.3 L422.6,2203.4 L423.3,2200.4 L424,2197.5 L424.6,2194.5 L425.3,2191.5 L426,2188.6 L426.6,2185.6 L427.3,2182.6 L427.9,2179.7 L428.6,2176.7 L429.2,2173.7 L429.9,2170.8 L430.5,2167.8 L431.2,2164.8 L431.8,2161.9 L432.4,2158.9 L433,2155.9 L433.7,2152.9 L434.3,2150 L434.9,2147 L435.5,2144 L436.1,2141 L436.8,2138 L437.4,2135.1 L438,2132.1 L438.6,2129.1 L439.2,2126.1 L439.7,2123.1 L440.3,2120.1 L440.9,2117.2 L441.5,2114.2 L442.1,2111.2 L442.7,2108.2 L443.2,2105.2 L443.8,2102.2 L444.4,2099.3 L444.9,2096.3 L445.5,2093.3 L446,2090.3 L446.6,2087.3 L447.1,2084.3 L447.7,2081.3 L448.2,2078.3 L448.7,2075.4 L449.3,2072.4 L449.8,2069.4 L450.3,2066.4 L450.8,2063.4 L451.3,2060.4 L451.8,2057.4 L452.3,2054.4 L452.8,2051.5 L453.3,2048.5 L453.8,2045.5 L454.3,2042.5 L454.8,2039.5 L455.3,2036.5 L455.8,2033.5 L456.2,2030.6 L456.7,2027.6 L457.2,2024.6 L457.6,2021.6 L458.1,2018.6 L458.5,2015.7 L459,2012.7 L459.4,2009.7 L459.9,2006.7 L460.3,2003.7 L460.7,2000.8 L461.1,1997.8 L461.6,1994.8 L462,1991.8 L462.4,1988.9 L462.8,1985.9 L463.2,1982.9 L463.6,1980 L464,1977 L464.4,1974 L464.8,1971.1 L465.1,1968.1 L465.5,1965.1 L465.9,1962.2 L466.3,1959.2 L466.7,1956.3 L467.1,1953.3 L467.5,1950.3 L467.9,1947.4 L468.3,1944.4 L468.7,1941.5 L469.1,1938.5 L469.6,1935.6 L470,1932.6 L470.4,1929.7 L470.9,1926.8 L471.3,1923.8 L471.8,1920.9 L472.3,1917.9 L472.7,1915 L473.2,1912.1 L473.7,1909.2 L474.3,1906.2 L474.8,1903.3 L475.3,1900.4 L475.9,1897.4 L476.5,1894.5 L477.1,1891.6 L477.7,1888.7 L478.3,1885.8 L479,1882.9 L479.6,1880 L480.3,1877.1 L481,1874.2 L481.7,1871.3 L482.5,1868.4 L483.2,1865.5 L484,1862.6 L484.8,1859.7 L485.7,1856.8 L486.5,1853.9 L487.4,1851 L488.3,1848.1 L489.3,1845.3 L490.2,1842.4 L491.2,1839.5 L492.2,1836.6 L493.3,1833.8 L494.4,1830.9 L495.5,1828.1 L496.6,1825.2 L497.8,1822.3 L499,1819.5 L500.2,1816.7 L501.5,1813.8 L502.8,1811 L504.2,1808.1 L505.5,1805.3 L507,1802.5 L508.4,1799.6 L509.9,1796.8 L511.4,1794 L513,1791.2 L514.6,1788.4 L516.2,1785.8 L517.9,1783.3 L519.6,1781 L521.4,1778.9 L523.2,1777.1 L525,1775.6 L526.9,1774.5 L528.7,1773.7 L530.6,1773.4 L532.5,1773.6 L534.4,1774.2 L536.3,1775.2 L538.1,1776.5 L539.9,1778.1 L541.6,1780 L543.3,1782.1 L545,1784.5 L546.7,1787 L548.3,1789.7 L549.9,1792.5 L551.4,1795.3 L553,1798.3 L554.5,1801.2 L556,1804.1 L557.4,1807.1 L558.9,1810.1 L560.3,1813.1 L561.7,1816 L563.1,1819 L564.4,1822 L565.8,1825 L567.1,1828.1 L568.4,1831.1 L569.6,1834.1 L570.9,1837 L572.1,1840 L573.3,1843 L574.5,1846 L575.7,1848.9 L576.9,1851.9 L578,1854.8 L579.1,1857.7 L580.2,1860.6 L581.3,1863.5 L582.4,1866.3 L583.5,1869.2 L584.5,1872 L585.5,1874.8 L586.6,1877.6 L587.6,1880.4 L588.5,1883.2 L589.5,1886 L590.5,1888.8 L591.4,1891.6 L592.3,1894.3 L593.3,1897.1 L594.2,1899.9 L595.1,1902.6 L596,1905.4 L596.8,1908.2 L597.7,1911 L598.5,1913.7 L599.4,1916.5 L600.2,1919.3 L601,1922.1 L601.9,1924.9 L602.7,1927.7 L603.5,1930.5 L604.2,1933.4 L605,1936.2 L605.8,1939.1 L606.6,1941.9 L607.3,1944.8 L608.1,1947.7 L608.8,1950.6 L609.6,1953.5 L610.3,1956.4 L611,1959.3 L611.8,1962.2 L612.5,1965.1 L613.2,1968 L613.9,1971 L614.6,1973.9 L615.4,1976.8 L616.1,1979.8 L616.8,1982.7 L617.5,1985.7 L618.2,1988.6 L618.9,1991.6 L619.6,1994.5 L620.3,1997.5 L621,2000.4 L621.7,2003.4 L622.4,2006.3 L623.1,2009.2 L623.8,2012.2 L624.5,2015.1 L625.2,2018.1 L625.9,2021 L626.6,2024 L627.3,2026.9 L628,2029.9 L628.7,2032.8 L629.4,2035.7 L630.1,2038.7 L630.8,2041.6 L631.5,2044.6 L632.3,2047.5 L633,2050.4 L633.7,2053.4 L634.4,2056.3 L635.1,2059.3 L635.8,2062.2 L636.5,2065.1 L637.2,2068.1 L638,2071 L638.7,2073.9 L639.4,2076.9 L640.1,2079.8 L640.8,2082.7 L641.5,2085.7 L642.2,2088.6 L643,2091.5 L643.7,2094.4 L644.4,2097.4 L645.1,2100.3 L645.8,2103.2 L646.6,2106.2 L647.3,2109.1 L648,2112 L648.7,2114.9 L649.4,2117.9 L650.2,2120.8 L650.9,2123.7 L651.6,2126.6 L652.3,2129.6 L653.1,2132.5 L653.8,2135.4 L654.5,2138.3 L655.2,2141.3 L656,2144.2 L656.7,2147.1 L657.4,2150 L658.1,2152.9 L658.9,2155.9 L659.6,2158.8 L660.3,2161.7 L661,2164.6 L661.8,2167.5 L662.5,2170.5 L663.2,2173.4 L664,2176.3 L664.7,2179.2 L665.4,2182.1 L666.1,2185.1 L666.9,2188 L667.6,2190.9 L668.3,2193.8 L669.1,2196.7 L669.8,2199.7 L670.5,2202.6 L671.3,2205.5 L672,2208.4 L672.7,2211.3 L673.5,2214.2 L674.2,2217.2 L674.9,2220.1 L675.6,2223 L676.4,2225.9 L677.1,2228.8 L677.8,2231.8 L678.6,2234.7 L679.3,2237.6 L680,2240.5 L680.8,2243.4 L681.5,2246.3 L682.2,2249.3 L683,2252.2 L683.7,2255.1 L684.4,2258 L685.2,2260.9 L685.9,2263.9 L686.6,2266.8 L687.4,2269.7 L688.1,2272.6 L688.8,2275.5 L689.6,2278.5 L690.3,2281.4 L691,2284.3 L691.8,2287.2 L692.5,2290.1 L693.2,2293.1 L694,2296 L694.7,2298.9 L695.4,2301.8 L696.2,2304.7 L696.9,2307.7 L697.6,2310.6 L698.3,2313.5 L699.1,2316.4 L699.8,2319.4 L700.5,2322.3 L701.3,2325.2 L702,2328.1 L702.7,2331.1 L703.5,2334 L704.2,2336.9 L704.9,2339.8 L705.7,2342.8 L706.4,2345.7 L707.1,2348.6 L707.8,2351.5 L708.6,2354.5 L709.3,2357.4 L710,2360.3 L710.8,2363.3 L711.5,2366.2 L712.2,2369.1 L712.9,2372.1" fill="none" stroke="#557E38" stroke-width="11" stroke-dasharray="46 34.5" stroke-dashoffset="3.9"/>
<path d="M278.1,2397.7 L281.4,2399.7 L284.6,2401.7 L287.7,2403.7 L290.7,2405.6 L293.6,2407.3 L296.5,2408.7 L299.2,2409.8 L301.8,2410.6 L304.3,2410.8 L306.8,2410.6 L309.1,2409.8 L311.4,2408.6 L313.5,2407 L315.5,2405.3 L317.5,2403.4 L319.3,2401.4 L321.1,2399.4 L322.8,2397.2 L324.4,2395 L325.9,2392.7 L327.4,2390.3 L328.9,2387.9 L330.3,2385.4 L331.6,2382.8 L332.9,2380.2 L334.2,2377.5 L335.5,2374.8 L336.7,2372.1 L338,2369.3 L339.2,2366.5 L340.4,2363.6 L341.6,2360.8 L342.8,2357.9 L344,2355 L345.1,2352.1 L346.3,2349.2 L347.4,2346.3 L348.5,2343.4 L349.6,2340.5 L350.6,2337.6 L351.7,2334.7 L352.7,2331.8 L353.7,2328.9 L354.7,2326 L355.6,2323.1 L356.6,2320.2 L357.5,2317.3 L358.4,2314.4 L359.3,2311.5 L360.2,2308.5 L361,2305.6 L361.9,2302.7 L362.7,2299.8 L363.5,2296.9 L364.3,2294 L365.1,2291.1 L365.9,2288.1 L366.6,2285.2 L367.4,2282.3 L368.1,2279.4 L368.8,2276.5 L369.5,2273.5 L370.2,2270.6 L370.8,2267.7 L371.5,2264.7 L372.1,2261.8 L372.7,2258.9 L373.4,2256 L374,2253 L374.5,2250.1 L375.1,2247.2 L375.7,2244.2 L376.2,2241.3 L376.8,2238.4 L377.3,2235.4 L377.8,2232.5 L378.3,2229.5 L378.8,2226.6 L379.3,2223.7 L379.7,2220.7 L380.2,2217.8 L380.6,2214.8 L381.1,2211.9 L381.5,2208.9 L381.9,2206 L382.3,2203 L382.7,2200.1 L383.1,2197.1 L383.5,2194.2 L383.9,2191.2 L384.2,2188.3 L384.6,2185.3 L384.9,2182.4 L385.3,2179.4 L385.6,2176.4 L385.9,2173.5 L386.2,2170.5 L386.6,2167.6 L386.9,2164.6 L387.2,2161.6 L387.4,2158.7 L387.7,2155.7 L388,2152.7 L388.3,2149.8 L388.5,2146.8 L388.8,2143.8 L389.1,2140.9 L389.3,2137.9 L389.6,2134.9 L389.8,2131.9 L390,2129 L390.3,2126 L390.5,2123 L390.7,2120 L391,2117.1 L391.2,2114.1 L391.4,2111.1 L391.6,2108.1 L391.8,2105.1 L392,2102.1 L392.2,2099.2 L392.4,2096.2 L392.6,2093.2 L392.8,2090.2 L393,2087.2 L393.2,2084.2 L393.4,2081.2 L393.6,2078.2 L393.8,2075.2 L394,2072.2 L394.2,2069.2 L394.4,2066.2 L394.6,2063.2 L394.8,2060.2 L395,2057.2 L395.2,2054.2 L395.4,2051.2 L395.6,2048.2 L395.8,2045.2 L396,2042.2 L396.2,2039.2 L396.4,2036.2 L396.6,2033.2 L396.8,2030.2 L397,2027.2 L397.2,2024.2 L397.4,2021.2 L397.6,2018.2 L397.8,2015.2 L398,2012.1 L398.2,2009.1 L398.4,2006.1 L398.6,2003.1 L398.8,2000.1 L399.1,1997.1 L399.3,1994.1 L399.5,1991 L399.7,1988 L399.9,1985 L400.1,1982 L400.3,1979 L400.5,1975.9 L400.7,1972.9 L401,1969.9 L401.2,1966.9 L401.4,1963.9 L401.6,1960.8 L401.8,1957.8 L402,1954.8 L402.3,1951.8 L402.5,1948.8 L402.7,1945.7 L402.9,1942.7 L403.1,1939.7 L403.3,1936.7 L403.5,1933.7 L403.8,1930.6 L404,1927.6 L404.2,1924.6 L404.4,1921.6 L404.6,1918.6 L404.8,1915.5 L405.1,1912.5 L405.3,1909.5 L405.5,1906.5 L405.7,1903.5 L405.9,1900.4 L406.1,1897.4 L406.4,1894.4 L406.6,1891.4 L406.8,1888.4 L407,1885.4 L407.2,1882.3 L407.4,1879.3 L407.6,1876.3 L407.9,1873.3 L408.1,1870.3 L408.3,1867.3 L408.5,1864.3 L408.7,1861.3 L408.9,1858.2 L409.1,1855.2 L409.3,1852.2 L409.5,1849.2 L409.7,1846.2 L410,1843.2 L410.2,1840.2 L410.4,1837.2 L410.6,1834.2 L410.8,1831.2 L411,1828.2 L411.2,1825.2 L411.4,1822.2 L411.6,1819.2 L411.8,1816.2 L412,1813.2 L412.2,1810.2 L412.4,1807.2 L412.6,1804.2 L412.8,1801.2 L413,1798.2 L413.2,1795.2 L413.4,1792.2 L413.6,1789.2 L413.8,1786.3 L414,1783.3 L414.1,1780.3 L414.3,1777.3 L414.5,1774.3 L414.7,1771.4 L414.9,1768.4 L415.1,1765.4 L415.3,1762.4 L415.4,1759.5 L415.6,1756.5 L415.8,1753.5 L416,1750.5 L416.2,1747.6 L416.3,1744.6 L416.5,1741.7 L416.7,1738.7 L416.8,1735.7 L417,1732.8 L417.2,1729.8 L417.4,1726.9 L417.5,1723.9 L417.7,1721 L417.8,1718 L418,1715.1 L418.2,1712.1 L418.3,1709.2 L418.5,1706.3 L418.6,1703.3 L418.8,1700.4 L418.9,1697.5 L419.1,1694.5 L419.2,1691.6 L419.4,1688.7 L419.6,1685.7 L419.7,1682.8 L419.9,1679.9 L420,1676.9 L420.2,1674 L420.4,1671.1 L420.6,1668.1 L420.8,1665.2 L421,1662.2 L421.2,1659.3 L421.5,1656.3 L421.7,1653.4 L422,1650.4 L422.2,1647.4 L422.5,1644.5 L422.8,1641.5 L423.2,1638.5 L423.5,1635.5 L423.9,1632.5 L424.2,1629.5 L424.6,1626.4 L425.1,1623.4 L425.5,1620.4 L426,1617.3 L426.5,1614.3 L427,1611.2 L427.5,1608.1 L428.1,1605 L428.7,1601.9 L429.3,1598.8 L430,1595.6 L430.6,1592.5 L431.4,1589.3 L432.1,1586.1 L432.9,1583 L433.7,1579.7 L434.6,1576.5 L435.4,1573.3 L436.4,1570 L437.3,1566.7 L438.3,1563.5 L439.4,1560.2 L440.4,1556.9 L441.6,1553.6 L442.7,1550.5 L444,1547.4 L445.2,1544.4 L446.5,1541.5 L447.9,1538.8 L449.3,1536.3 L450.8,1534 L452.3,1531.9 L453.9,1530 L455.6,1528.4 L457.3,1527.1 L459,1526.1 L460.9,1525.5 L462.8,1525.2 L464.8,1525.3 L466.8,1525.7 L468.9,1526.6 L471,1527.8 L473.2,1529.3 L475.3,1531 L477.4,1532.9 L479.5,1534.9 L481.4,1537.1 L483.3,1539.3 L485.1,1541.6 L486.8,1543.9 L488.5,1546.3 L490,1548.7 L491.5,1551.2 L492.9,1553.8 L494.2,1556.4 L495.5,1559 L496.7,1561.7 L497.8,1564.4 L498.8,1567.2 L499.9,1569.9 L500.8,1572.8 L501.7,1575.6 L502.5,1578.5 L503.3,1581.4 L504.1,1584.4 L504.8,1587.3 L505.5,1590.3 L506.1,1593.3 L506.7,1596.3 L507.3,1599.4 L507.8,1602.4 L508.3,1605.5 L508.8,1608.6 L509.2,1611.6 L509.7,1614.7 L510.1,1617.8 L510.5,1620.9 L510.9,1624 L511.3,1627 L511.7,1630.1 L512,1633.2 L512.4,1636.2 L512.8,1639.3 L513.1,1642.4 L513.5,1645.4 L513.8,1648.5 L514.2,1651.5 L514.5,1654.5 L514.8,1657.6 L515.1,1660.6 L515.4,1663.6 L515.7,1666.7 L516,1669.7 L516.3,1672.7 L516.6,1675.7 L516.9,1678.7 L517.2,1681.7 L517.5,1684.8 L517.7,1687.8 L518,1690.8 L518.3,1693.8 L518.5,1696.8 L518.8,1699.8 L519,1702.8 L519.3,1705.8 L519.5,1708.7 L519.8,1711.7 L520,1714.7 L520.2,1717.7 L520.5,1720.7 L520.7,1723.7 L520.9,1726.7 L521.2,1729.7 L521.4,1732.6 L521.6,1735.6 L521.8,1738.6 L522,1741.6 L522.3,1744.6 L522.5,1747.5 L522.7,1750.5 L522.9,1753.5 L523.1,1756.5 L523.4,1759.5 L523.6,1762.4 L523.8,1765.4 L524,1768.4 L524.2,1771.4 L524.5,1774.4 L524.7,1777.3 L524.9,1780.3 L525.1,1783.3 L525.3,1786.3 L525.5,1789.3 L525.8,1792.2 L526,1795.2 L526.2,1798.2 L526.4,1801.2 L526.7,1804.2 L526.9,1807.1 L527.1,1810.1 L527.3,1813.1 L527.6,1816.1 L527.8,1819 L528,1822 L528.3,1825 L528.5,1828 L528.7,1831 L529,1833.9 L529.2,1836.9 L529.5,1839.9 L529.7,1842.9 L530,1845.9 L530.2,1848.8 L530.5,1851.8 L530.7,1854.8 L531,1857.8 L531.2,1860.7 L531.5,1863.7 L531.8,1866.7 L532.1,1869.7 L532.3,1872.6 L532.6,1875.6 L532.9,1878.6 L533.2,1881.6 L533.5,1884.5 L533.8,1887.5 L534.1,1890.5 L534.4,1893.5 L534.7,1896.4 L535,1899.4 L535.3,1902.4 L535.6,1905.4 L535.9,1908.3 L536.2,1911.3 L536.6,1914.3 L536.9,1917.3 L537.3,1920.2 L537.6,1923.2 L537.9,1926.2 L538.3,1929.2 L538.7,1932.1 L539,1935.1 L539.4,1938.1 L539.8,1941 L540.2,1944 L540.5,1947 L540.9,1950 L541.3,1952.9 L541.7,1955.9 L542.2,1958.9 L542.6,1961.8 L543,1964.8 L543.4,1967.8 L543.9,1970.7 L544.3,1973.7 L544.8,1976.7 L545.2,1979.6 L545.7,1982.6 L546.1,1985.6 L546.6,1988.6 L547.1,1991.5 L547.6,1994.5 L548.1,1997.5 L548.6,2000.4 L549.1,2003.4 L549.6,2006.3 L550.2,2009.3 L550.7,2012.3 L551.3,2015.2 L551.8,2018.2 L552.4,2021.2 L552.9,2024.1 L553.5,2027.1 L554.1,2030.1 L554.7,2033 L555.3,2036 L555.9,2038.9 L556.5,2041.9 L557.1,2044.9 L557.8,2047.8 L558.4,2050.8 L559.1,2053.7 L559.7,2056.7 L560.4,2059.7 L561.1,2062.6 L561.8,2065.6 L562.5,2068.5 L563.2,2071.5 L563.9,2074.4 L564.6,2077.4 L565.4,2080.4 L566.1,2083.3 L566.8,2086.3 L567.6,2089.2 L568.3,2092.2 L569.1,2095.1 L569.8,2098.1 L570.6,2101 L571.4,2104 L572.2,2106.9 L572.9,2109.9 L573.7,2112.8 L574.5,2115.8 L575.3,2118.7 L576.1,2121.6 L576.9,2124.6 L577.7,2127.5 L578.5,2130.5 L579.3,2133.4 L580.1,2136.3 L580.9,2139.3 L581.7,2142.2 L582.6,2145.1 L583.4,2148 L584.2,2151 L585,2153.9 L585.8,2156.8 L586.6,2159.8 L587.4,2162.7 L588.2,2165.6 L589,2168.5 L589.8,2171.4 L590.7,2174.3 L591.5,2177.3 L592.3,2180.2 L593.1,2183.1 L593.9,2186 L594.6,2188.9 L595.4,2191.8 L596.2,2194.7 L597,2197.6 L597.8,2200.5 L598.6,2203.4 L599.3,2206.3 L600.1,2209.2 L600.9,2212 L601.6,2214.9 L602.4,2217.8 L603.1,2220.7 L603.9,2223.6 L604.6,2226.4 L605.4,2229.3 L606.1,2232.2 L606.9,2235 L607.6,2237.9 L608.4,2240.8 L609.1,2243.6 L609.9,2246.5 L610.6,2249.3 L611.3,2252.2 L612.1,2255 L612.8,2257.9 L613.6,2260.7 L614.3,2263.6 L615.1,2266.4 L615.8,2269.2 L616.6,2272.1 L617.4,2274.9 L618.1,2277.7 L618.9,2280.5 L619.7,2283.4 L620.4,2286.2 L621.2,2289 L622,2291.8 L622.8,2294.6 L623.6,2297.4 L624.4,2300.2 L625.2,2303 L626,2305.8 L626.8,2308.6 L627.6,2311.4 L628.4,2314.1 L629.3,2316.9 L630.1,2319.7 L631,2322.5 L631.9,2325.2 L632.9,2328 L633.9,2330.7 L635,2333.5 L636.1,2336.2 L637.3,2339 L638.5,2341.7 L639.9,2344.5 L641.3,2347.2 L642.8,2349.9 L644.4,2352.6 L646.1,2355.3 L647.9,2358 L649.7,2360.6 L651.6,2363.2 L653.6,2365.7 L655.7,2368.2 L657.8,2370.6 L660,2372.9 L662.3,2375.2 L664.6,2377.4 L667,2379.4 L669.4,2381.4 L671.9,2383.2 L674.4,2385 L677,2386.6 L679.6,2388.1 L682.3,2389.4 L685,2390.6 L687.7,2391.7 L690.5,2392.8 L693.2,2393.7 L696.1,2394.6 L698.9,2395.4 L701.7,2396.1 L704.6,2396.8 L707.5,2397.5 L710.4,2398.2 L713.3,2398.9 L716.2,2399.5 L719.1,2400.2 L722.1,2400.9 L725,2401.5 L727.9,2402.2 L730.9,2402.9 L733.8,2403.5 L736.8,2404.1 L739.7,2404.7 L742.7,2405.3 L745.7,2405.9 L748.6,2406.5 L751.6,2407 L754.6,2407.5 L757.6,2408 L760.6,2408.5 L763.5,2408.9 L766.5,2409.3 L769.5,2409.6 L772.5,2409.9 L775.5,2410.2 L778.5,2410.4 L781.5,2410.6 L784.5,2410.8 L787.5,2410.9 L790.5,2410.9 L793.5,2410.9 L796.5,2410.8 L799.5,2410.7 L802.5,2410.5 L805.5,2410.3 L808.5,2409.9 L811.5,2409.6 L814.5,2409.1 L817.5,2408.6 L820.5,2408 L823.5,2407.3" fill="none" stroke="#557E38" stroke-width="11"/>
<text x="178.4" y="1103.7" font-size="58.5" font-weight="bold" textLength="32.87" lengthAdjust="spacingAndGlyphs">0</text>
<text x="178.3" y="990.2" font-size="58.5" font-weight="bold" textLength="32.87" lengthAdjust="spacingAndGlyphs">2</text>
<text x="176.2" y="876.6" font-size="58.5" font-weight="bold" textLength="32.87" lengthAdjust="spacingAndGlyphs">4</text>
<text x="178.1" y="763.1" font-size="58.5" font-weight="bold" textLength="32.87" lengthAdjust="spacingAndGlyphs">6</text>
<text x="177.7" y="649.5" font-size="58.5" font-weight="bold" textLength="32.87" lengthAdjust="spacingAndGlyphs">8</text>
<text x="145.5" y="536" font-size="58.5" font-weight="bold" textLength="65.74" lengthAdjust="spacingAndGlyphs">10</text>
<text x="145.4" y="422.4" font-size="58.5" font-weight="bold" textLength="65.74" lengthAdjust="spacingAndGlyphs">12</text>
<text x="143.4" y="308.8" font-size="58.5" font-weight="bold" textLength="65.74" lengthAdjust="spacingAndGlyphs">14</text>
<text x="145.2" y="195.3" font-size="58.5" font-weight="bold" textLength="65.74" lengthAdjust="spacingAndGlyphs">16</text>
<text x="144.9" y="81.8" font-size="58.5" font-weight="bold" textLength="65.74" lengthAdjust="spacingAndGlyphs">18</text>
<text x="178.4" y="2421.7" font-size="58.5" font-weight="bold" textLength="32.87" lengthAdjust="spacingAndGlyphs">0</text>
<text x="177.6" y="2277.6" font-size="58.5" font-weight="bold" textLength="32.87" lengthAdjust="spacingAndGlyphs">5</text>
<text x="145.5" y="2133.5" font-size="58.5" font-weight="bold" textLength="65.74" lengthAdjust="spacingAndGlyphs">10</text>
<text x="144.7" y="1989.4" font-size="58.5" font-weight="bold" textLength="65.74" lengthAdjust="spacingAndGlyphs">15</text>
<text x="145.5" y="1845.3" font-size="58.5" font-weight="bold" textLength="65.74" lengthAdjust="spacingAndGlyphs">20</text>
<text x="144.7" y="1701.2" font-size="58.5" font-weight="bold" textLength="65.74" lengthAdjust="spacingAndGlyphs">25</text>
<text x="145.5" y="1557.1" font-size="58.5" font-weight="bold" textLength="65.74" lengthAdjust="spacingAndGlyphs">30</text>
<text x="144.7" y="1413" font-size="58.5" font-weight="bold" textLength="65.74" lengthAdjust="spacingAndGlyphs">35</text>
<text x="191.4" y="1192.5" font-size="58.5" font-weight="bold" textLength="163.10" lengthAdjust="spacingAndGlyphs">1 x 10</text>
<text x="354.6" y="1171" font-size="37.5" font-weight="bold" textLength="20.86" lengthAdjust="spacingAndGlyphs">0</text>
<text x="806.9" y="1192.5" font-size="58.5" font-weight="bold" textLength="163.10" lengthAdjust="spacingAndGlyphs">1 x 10</text>
<text x="969.2" y="1171" font-size="37.5" font-weight="bold" textLength="20.86" lengthAdjust="spacingAndGlyphs">1</text>
<text x="1421" y="1192.5" font-size="58.5" font-weight="bold" textLength="163.10" lengthAdjust="spacingAndGlyphs">1 x 10</text>
<text x="1584.4" y="1171" font-size="37.5" font-weight="bold" textLength="20.86" lengthAdjust="spacingAndGlyphs">2</text>
<text x="2032.2" y="1192.5" font-size="58.5" font-weight="bold" textLength="163.10" lengthAdjust="spacingAndGlyphs">1 x 10</text>
<text x="2196" y="1171" font-size="37.5" font-weight="bold" textLength="20.86" lengthAdjust="spacingAndGlyphs">3</text>
<text x="192.6" y="2510" font-size="58.5" font-weight="bold" textLength="163.10" lengthAdjust="spacingAndGlyphs">1 x 10</text>
<text x="355.8" y="2488.5" font-size="37.5" font-weight="bold" textLength="20.86" lengthAdjust="spacingAndGlyphs">0</text>
<text x="808.6" y="2510" font-size="58.5" font-weight="bold" textLength="163.10" lengthAdjust="spacingAndGlyphs">1 x 10</text>
<text x="970.9" y="2488.5" font-size="37.5" font-weight="bold" textLength="20.86" lengthAdjust="spacingAndGlyphs">1</text>
<text x="1423" y="2510" font-size="58.5" font-weight="bold" textLength="163.10" lengthAdjust="spacingAndGlyphs">1 x 10</text>
<text x="1586.4" y="2488.5" font-size="37.5" font-weight="bold" textLength="20.86" lengthAdjust="spacingAndGlyphs">2</text>
<text x="2038" y="2510" font-size="58.5" font-weight="bold" textLength="163.10" lengthAdjust="spacingAndGlyphs">1 x 10</text>
<text x="2201.8" y="2488.5" font-size="37.5" font-weight="bold" textLength="20.86" lengthAdjust="spacingAndGlyphs">3</text>
<text x="955.5" y="1290" font-size="58.5" font-weight="bold" textLength="474.87" lengthAdjust="spacingAndGlyphs">Particle size (µm)</text>
<text x="956.7" y="2606" font-size="58.5" font-weight="bold" textLength="478.21" lengthAdjust="spacingAndGlyphs">Particle size (µm)</text>
<text transform="translate(110.8,0) rotate(-90)" x="-710.1" y="0" font-size="58.5" font-weight="bold" textLength="277.43" lengthAdjust="spacingAndGlyphs">% Volume</text>
<text transform="translate(110.8,0) rotate(-90)" x="-2037.6" y="0" font-size="58.5" font-weight="bold" textLength="278.04" lengthAdjust="spacingAndGlyphs">% Volume</text>
<text x="14.3" y="130.5" font-size="87" font-weight="bold" textLength="100.71" lengthAdjust="spacingAndGlyphs">(a)</text>
<text x="13.4" y="1458.5" font-size="87" font-weight="bold" textLength="104.12" lengthAdjust="spacingAndGlyphs">(b)</text>
<rect x="1266.5" y="108" width="769.5" height="423" rx="66" ry="62" fill="none" stroke="#000" stroke-width="3"/>
<text x="1374" y="204.3" font-size="52.5" font-weight="normal" textLength="201.23" lengthAdjust="spacingAndGlyphs">: 1 % SiO</text>
<text x="1576.8" y="214.8" font-size="35" font-weight="normal" textLength="19.41" lengthAdjust="spacingAndGlyphs">2</text>
<text x="1597.3" y="204.3" font-size="52.5" font-weight="normal" textLength="380.70" lengthAdjust="spacingAndGlyphs">/W-in-dodecane</text>
<text x="1374" y="274.4" font-size="52.5" font-weight="normal" textLength="201.23" lengthAdjust="spacingAndGlyphs">: 1 % SiO</text>
<text x="1576.8" y="284.9" font-size="35" font-weight="normal" textLength="19.41" lengthAdjust="spacingAndGlyphs">2</text>
<text x="1597.3" y="274.4" font-size="52.5" font-weight="normal" textLength="383.88" lengthAdjust="spacingAndGlyphs">/Dodecane-in-W</text>
<text x="1374" y="376.3" font-size="52.5" font-weight="normal" textLength="201.23" lengthAdjust="spacingAndGlyphs">: 4 % SiO</text>
<text x="1576.8" y="386.8" font-size="35" font-weight="normal" textLength="19.41" lengthAdjust="spacingAndGlyphs">2</text>
<text x="1597.3" y="376.3" font-size="52.5" font-weight="normal" textLength="380.70" lengthAdjust="spacingAndGlyphs">/W-in-dodecane</text>
<text x="1374" y="445.7" font-size="52.5" font-weight="normal" textLength="201.23" lengthAdjust="spacingAndGlyphs">: 4 % SiO</text>
<text x="1576.8" y="456.2" font-size="35" font-weight="normal" textLength="19.41" lengthAdjust="spacingAndGlyphs">2</text>
<text x="1597.3" y="445.7" font-size="52.5" font-weight="normal" textLength="383.88" lengthAdjust="spacingAndGlyphs">/Dodecane-in-W</text>
<rect x="1298.5" y="184" width="12" height="13" fill="#943634"/>
<rect x="1323.5" y="184" width="42.5" height="13" fill="#943634"/>
<circle cx="1337.8" cy="263.9" r="20.5" fill="none" stroke="#2F5597" stroke-width="6.5"/>
<rect x="1299.5" y="354" width="69" height="13" fill="#943634"/>
<rect x="1317.2" y="416.4" width="42.2" height="43" fill="none" stroke="#2F5597" stroke-width="7"/>
<rect x="1238" y="1440.5" width="797.5" height="416" rx="66" ry="62" fill="none" stroke="#000" stroke-width="3"/>
<text x="1345.6" y="1535" font-size="52.5" font-weight="normal" textLength="201.23" lengthAdjust="spacingAndGlyphs">: 1 % SiO</text>
<text x="1548.4" y="1545.5" font-size="35" font-weight="normal" textLength="19.41" lengthAdjust="spacingAndGlyphs">2</text>
<text x="1568.9" y="1535" font-size="52.5" font-weight="normal" textLength="409.66" lengthAdjust="spacingAndGlyphs">/W-in-paraffin oil</text>
<text x="1345.6" y="1603" font-size="52.5" font-weight="normal" textLength="201.23" lengthAdjust="spacingAndGlyphs">: 1 % SiO</text>
<text x="1548.4" y="1613.5" font-size="35" font-weight="normal" textLength="19.41" lengthAdjust="spacingAndGlyphs">2</text>
<text x="1568.9" y="1603" font-size="52.5" font-weight="normal" textLength="406.09" lengthAdjust="spacingAndGlyphs">/Paraffin oil-in-W</text>
<text x="1345.6" y="1703" font-size="52.5" font-weight="normal" textLength="201.23" lengthAdjust="spacingAndGlyphs">: 4 % SiO</text>
<text x="1548.4" y="1713.5" font-size="35" font-weight="normal" textLength="19.41" lengthAdjust="spacingAndGlyphs">2</text>
<text x="1568.9" y="1703" font-size="52.5" font-weight="normal" textLength="409.66" lengthAdjust="spacingAndGlyphs">/W-in-paraffin oil</text>
<text x="1345.6" y="1771" font-size="52.5" font-weight="normal" textLength="201.23" lengthAdjust="spacingAndGlyphs">: 4 % SiO</text>
<text x="1548.4" y="1781.5" font-size="35" font-weight="normal" textLength="19.41" lengthAdjust="spacingAndGlyphs">2</text>
<text x="1568.9" y="1771" font-size="52.5" font-weight="normal" textLength="406.09" lengthAdjust="spacingAndGlyphs">/Paraffin oil-in-W</text>
<rect x="1270.5" y="1515" width="11.5" height="13" fill="#557E38"/>
<rect x="1295" y="1515" width="43" height="13" fill="#557E38"/>
<circle cx="1309" cy="1593.8" r="21" fill="none" stroke="#557E38" stroke-width="5.5"/>
<rect x="1270.5" y="1688" width="67.5" height="13" fill="#557E38"/>
<rect x="1288.8" y="1745.4" width="42.6" height="41.8" fill="none" stroke="#557E38" stroke-width="6"/>
<defs><clipPath id="clipA"><rect x="0" y="0" width="2256" height="1200"/></clipPath></defs>
</svg></body></html>
